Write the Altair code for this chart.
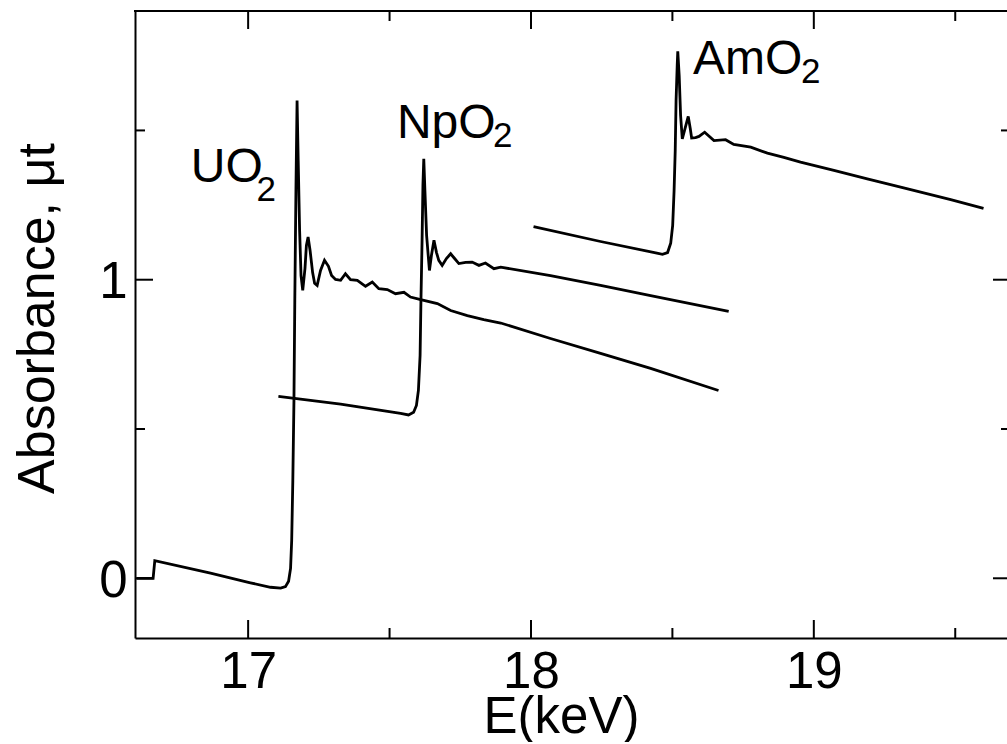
import altair as alt
import pandas as pd

# ---- data (E in keV, absorbance) ----
UO2_E = [16.605, 16.664, 16.670, 16.867, 17.008, 17.079, 17.115, 17.132, 17.143, 17.150,
         17.154, 17.158, 17.162, 17.165, 17.169, 17.173, 17.177, 17.182, 17.187, 17.193,
         17.201, 17.206, 17.212, 17.219, 17.228, 17.235, 17.244, 17.256, 17.270, 17.284,
         17.295, 17.309, 17.327, 17.344, 17.362, 17.386, 17.415, 17.439, 17.462, 17.492,
         17.521, 17.551, 17.574, 17.610, 17.669, 17.716, 17.775, 17.833, 17.893, 18.069,
         18.246, 18.423, 18.663]
UO2_A = [0.000, 0.000, 0.059, 0.017, -0.015, -0.030, -0.033, -0.028, -0.010, 0.033,
         0.127, 0.328, 0.596, 0.931, 1.299, 1.600, 1.399, 1.165, 1.014, 0.964,
         1.038, 1.115, 1.143, 1.098, 1.024, 0.988, 0.981, 1.031, 1.065, 1.045,
         1.014, 1.001, 0.998, 1.020, 1.000, 0.998, 0.978, 0.992, 0.970, 0.967,
         0.953, 0.958, 0.942, 0.933, 0.920, 0.897, 0.880, 0.866, 0.855, 0.803,
         0.753, 0.703, 0.629]

NPO2_E = [17.107, 17.327, 17.539, 17.567, 17.585, 17.595, 17.602, 17.608, 17.611, 17.615,
          17.618, 17.621, 17.625, 17.631, 17.641, 17.648, 17.657, 17.666, 17.674, 17.686,
          17.701, 17.716, 17.730, 17.745, 17.769, 17.792, 17.816, 17.839, 17.869, 17.893,
          18.069, 18.246, 18.423, 18.699]
NPO2_A = [0.609, 0.583, 0.552, 0.547, 0.556, 0.579, 0.629, 0.747, 0.931, 1.132,
          1.316, 1.405, 1.299, 1.148, 1.031, 1.081, 1.132, 1.091, 1.065, 1.048,
          1.071, 1.087, 1.071, 1.054, 1.058, 1.059, 1.048, 1.056, 1.037, 1.042,
          1.014, 0.981, 0.947, 0.894]

AMO2_E = [18.009, 18.246, 18.441, 18.465, 18.483, 18.494, 18.501, 18.506, 18.510, 18.513,
          18.517, 18.519, 18.524, 18.529, 18.535, 18.543, 18.556, 18.563, 18.568, 18.582,
          18.594, 18.614, 18.647, 18.688, 18.717, 18.777, 18.836, 18.894, 18.953, 19.071,
          19.189, 19.307, 19.484, 19.600]
AMO2_A = [1.178, 1.128, 1.090, 1.085, 1.091, 1.122, 1.182, 1.299, 1.433, 1.600,
          1.717, 1.765, 1.684, 1.550, 1.472, 1.500, 1.547, 1.507, 1.475, 1.476,
          1.480, 1.494, 1.466, 1.469, 1.453, 1.444, 1.424, 1.410, 1.394, 1.366,
          1.338, 1.310, 1.268, 1.239]

LABEL_MAIN = ["UO", "NpO", "AmO"]
LABEL_E = [16.797, 17.526, 18.573]
LABEL_A = [1.327, 1.474, 1.689]
SUB_TEXT = ["2", "2", "2"]
SUB_E = [17.030, 17.866, 18.955]
SUB_A = [1.262, 1.445, 1.659]

X_MAJOR = [17, 18, 19]
X_MINOR = [17.5, 18.5, 19.5]
Y_MAJOR = [0, 1]
Y_MINOR = [0.5, 1.5]

FONT = "Liberation Sans"
W, H = 872, 627
MAJ, MIN = 18, 10

rows = []
for name, es, avals in [("UO2", UO2_E, UO2_A), ("NpO2", NPO2_E, NPO2_A), ("AmO2", AMO2_E, AMO2_A)]:
    for i, (e, a) in enumerate(zip(es, avals)):
        rows.append({"series": name, "i": i, "E": e, "A": a})
df = pd.DataFrame(rows)

xs = alt.Scale(domain=[16.6, 19.683], nice=False, zero=False)
ys = alt.Scale(domain=[-0.2, 1.9], nice=False, zero=False)

x_axis = alt.Axis(values=X_MAJOR, format="d", title="E(keV)", grid=False, ticks=False, tickSize=0,
                  domainColor="black", domainWidth=2, labelFontSize=51, labelFont=FONT,
                  labelColor="black", labelPadding=9, titleFont=FONT, titleFontSize=51,
                  titleFontWeight="normal", titleColor="black", titleBaseline="alphabetic",
                  titleAlign="center", titleX=426, titleY=94)
y_axis = alt.Axis(values=Y_MAJOR, format="d", title="Absorbance, μt", grid=False, ticks=False,
                  tickSize=0, domainColor="black", domainWidth=2, labelFontSize=51,
                  labelFont=FONT, labelColor="black", labelPadding=8, labelOffset=3,
                  titleFont=FONT, titleFontSize=52, titleFontWeight="normal", titleColor="black",
                  titleAngle=270, titleBaseline="alphabetic", titleAlign="center",
                  titleX=-82, titleY=307)

X = lambda: alt.X("E:Q", scale=xs, axis=x_axis)
Y = lambda: alt.Y("A:Q", scale=ys, axis=y_axis)

lines = alt.Chart(df).mark_line(color="black", strokeWidth=2.8).encode(
    x=X(), y=Y(), detail="series:N", order="i:Q")

xmaj = pd.DataFrame({"E": X_MAJOR})
xmin = pd.DataFrame({"E": X_MINOR})
ymaj = pd.DataFrame({"A": Y_MAJOR})
ymin = pd.DataFrame({"A": Y_MINOR})

def xtick(d, y1, y2):
    return alt.Chart(d).mark_rule(color="black", strokeWidth=2).encode(
        x=X(), y=alt.value(y1), y2=alt.value(y2))

def ytick(d, x1, x2):
    return alt.Chart(d).mark_rule(color="black", strokeWidth=2).encode(
        y=Y(), x=alt.value(x1), x2=alt.value(x2))

ticks = [
    xtick(xmaj, H, H - MAJ), xtick(xmin, H, H - MIN),
    xtick(xmaj, 0, MAJ), xtick(xmin, 0, MIN),
    ytick(ymaj, 0, MAJ), ytick(ymin, 0, MIN),
    ytick(ymaj, W - (MAJ - 4), W), ytick(ymin, W - (MIN - 4), W),
]

top_border = alt.Chart(xmaj).mark_rule(color="black", strokeWidth=2, strokeCap="square").encode(
    x=alt.value(0), x2=alt.value(W), y=alt.value(0))

lab = pd.DataFrame({"t": LABEL_MAIN, "E": LABEL_E, "A": LABEL_A})
sub = pd.DataFrame({"t": SUB_TEXT, "E": SUB_E, "A": SUB_A})
labels = alt.Chart(lab).mark_text(align="left", baseline="alphabetic", fontSize=48, font=FONT,
                                  color="black").encode(x=X(), y=Y(), text="t:N")
subs = alt.Chart(sub).mark_text(align="left", baseline="alphabetic", fontSize=35, font=FONT,
                                color="black").encode(x=X(), y=Y(), text="t:N")

chart = alt.layer(lines, top_border, *ticks, labels, subs).properties(
    width=W, height=H, autosize="none",
    padding={"left": 135, "top": 11, "right": 0, "bottom": 104},
    background="white",
).configure_view(stroke="transparent")

chart.save("out.html", embed_options={"renderer": "svg", "actions": False})
